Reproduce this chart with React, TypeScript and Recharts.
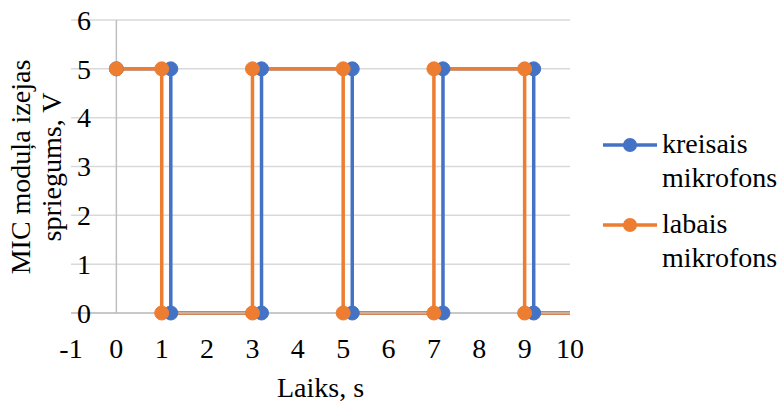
import { LineChart, Line, XAxis, YAxis, CartesianGrid, ReferenceLine, Legend } from 'recharts'

// Laiks, s
const leftTimes = [0, 1.2, 1.2, 3.2, 3.2, 5.2, 5.2, 7.2, 7.2, 9.2, 9.2, 10.5]
const rightTimes = [0, 1, 1, 3, 3, 5, 5, 7, 7, 9, 9, 10.5]
// MIC moduļa izejas spriegums, V
const leftVolts = [5, 5, 0, 0, 5, 5, 0, 0, 5, 5, 0, 0]
const rightVolts = [5, 5, 0, 0, 5, 5, 0, 0, 5, 5, 0, 0]

const xTicks = [-1, 0, 1, 2, 3, 4, 5, 6, 7, 8, 9, 10]
const yTicks = [0, 1, 2, 3, 4, 5, 6]

const leftData = leftTimes.map((t, i) => ({ x: t, y: leftVolts[i] }))
const rightData = rightTimes.map((t, i) => ({ x: t, y: rightVolts[i] }))

const FONT = "'Liberation Serif', 'Times New Roman', serif"
const FS = 28
const BLUE = '#4472C4'
const ORANGE = '#ED7D31'

function XTick({ x, y, payload }: any) {
  return (
    <text x={x} y={y + 45} textAnchor="middle" fontFamily={FONT} fontSize={FS} fill="#000">
      {payload.value}
    </text>
  )
}

function YTick({ x, y, payload }: any) {
  return (
    <text x={x + 20} y={y} dy="0.35em" textAnchor="end" fontFamily={FONT} fontSize={FS} fill="#000">
      {payload.value}
    </text>
  )
}

function YTitle() {
  const cy = 167
  return (
    <text transform={`translate(30 ${cy}) rotate(-90)`} textAnchor="middle" fontFamily={FONT} fontSize={FS} fill="#000">
      <tspan x={0} y={0}>MIC moduļa izejas</tspan>
      <tspan x={0} y={31}>spriegums, V</tspan>
    </text>
  )
}

function XTitle({ viewBox }: any) {
  const { x, y, width, height } = viewBox
  return (
    <text x={x + width / 2} y={y + height - 6} textAnchor="middle" fontFamily={FONT} fontSize={FS} fill="#000">
      Laiks, s
    </text>
  )
}

function LegendBox({ payload }: any) {
  return (
    <div style={{ fontFamily: FONT, fontSize: FS, color: '#000' }}>
      {(payload || []).map((entry: any) => (
        <div key={entry.value} style={{ display: 'flex', alignItems: 'flex-start', marginBottom: 12 }}>
          <svg width={61} height={34} style={{ flex: 'none' }}>
            <line x1={2} y1={18} x2={56} y2={18} stroke={entry.color} strokeWidth={3.5} />
            <circle cx={29} cy={18} r={7} fill={entry.color} />
          </svg>
          <div style={{ width: 130, lineHeight: '34px', fontFamily: FONT }}>{entry.value}</div>
        </div>
      ))}
    </div>
  )
}

export default function App() {
  return (
    <div style={{ position: 'absolute', left: 0, top: 0, background: '#fff', fontFamily: FONT }}>
      <LineChart width={782} height={403} margin={{ top: 20, right: 212, bottom: 0, left: 70 }}>
        <CartesianGrid vertical={false} stroke="#d9d9d9" strokeWidth={1.5} />
        <XAxis
          type="number"
          dataKey="x"
          domain={[-1, 10]}
          ticks={xTicks}
          allowDataOverflow
          height={90}
          stroke="#bfbfbf"
          strokeWidth={1.5}
          tickLine={false}
          tickSize={0}
          tickMargin={0}
          tick={<XTick />}
          interval={0}
          label={<XTitle />}
        />
        <YAxis
          type="number"
          domain={[0, 6]}
          ticks={yTicks}
          width={1}
          axisLine={false}
          tickLine={false}
          tickSize={0}
          tickMargin={0}
          tick={<YTick />}
          interval={0}
          label={<YTitle />}
        />
        <ReferenceLine x={0} stroke="#bfbfbf" strokeWidth={1.5} />
        <Legend
          layout="vertical"
          align="center"
          verticalAlign="middle"
          wrapperStyle={{ left: 601, top: 127, width: 190 }}
          content={<LegendBox />}
        />
        <Line
          name="kreisais mikrofons"
          data={leftData}
          dataKey="y"
          type="linear"
          stroke={BLUE}
          strokeWidth={3.5}
          dot={{ r: 7, fill: BLUE, stroke: BLUE, strokeWidth: 1 }}
          activeDot={false}
          isAnimationActive={false}
        />
        <Line
          name="labais mikrofons"
          data={rightData}
          dataKey="y"
          type="linear"
          stroke={ORANGE}
          strokeWidth={3.5}
          dot={{ r: 7, fill: ORANGE, stroke: ORANGE, strokeWidth: 1 }}
          activeDot={false}
          isAnimationActive={false}
        />
      </LineChart>
    </div>
  )
}
